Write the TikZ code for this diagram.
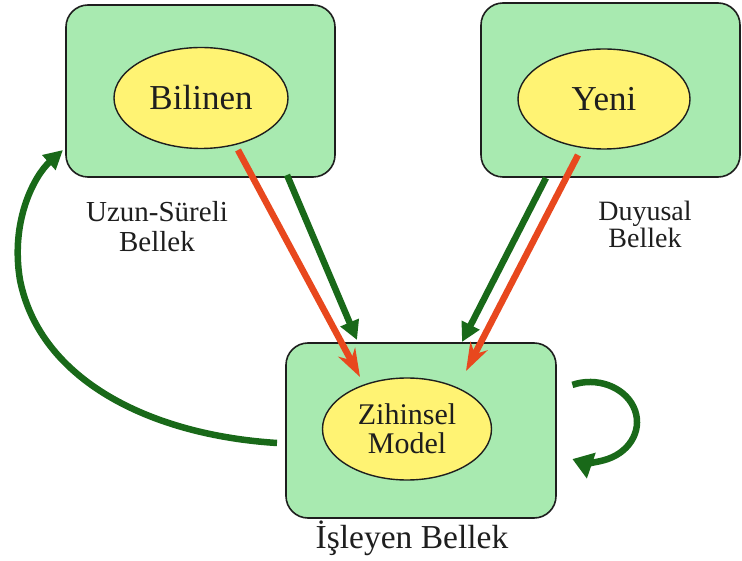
\documentclass[tikz,border=0pt]{standalone}
\usepackage{fontspec}
\setmainfont{Liberation Serif}
\usetikzlibrary{arrows.meta,shapes.geometric}
\definecolor{boxgreen}{RGB}{168,234,176}
\definecolor{ellyellow}{RGB}{255,243,115}
\definecolor{arrgreen}{RGB}{25,105,25}
\definecolor{arrred}{RGB}{232,72,30}
\definecolor{ink}{RGB}{30,30,30}
\tikzset{
  membox/.style={draw=ink, line width=1.6pt, fill=boxgreen, rounded corners=22pt, minimum width=#1, inner sep=0pt},
  idea/.style={ellipse, draw=ink, line width=1.4pt, fill=ellyellow, inner sep=0pt, text=ink},
  lab/.style={text=ink, align=center, inner sep=0pt},
  garrow/.style={draw=arrgreen, line width=6.5pt, -{Triangle[length=19pt,width=19pt]}},
  rarrow/.style={draw=arrred, line width=6.5pt, -{Stealth[length=28pt,width=19pt,inset=9pt]}},
}
\begin{document}
\begin{tikzpicture}[x=1pt,y=-1pt]
\useasboundingbox (0,0) rectangle (742,561);
% boxes
\node[membox=269pt, minimum height=172pt] (ltm) at (200.5,91) {};
\node[membox=259pt, minimum height=174pt] (sm) at (610.5,90) {};
\node[membox=270pt, minimum height=175pt] (wm) at (421,430.5) {};
% ellipses
\node[idea, minimum width=174pt, minimum height=101pt, font=\fontsize{35}{36}\selectfont] (bil) at (201,98) {Bilinen};
\node[idea, minimum width=172pt, minimum height=100pt, font=\fontsize{35}{36}\selectfont] (yeni) at (604,99) {Yeni};
\node[idea, minimum width=169pt, minimum height=102pt, align=center, font=\fontsize{30}{29}\selectfont] (zm) at (407,429) {Zihinsel\\Model};
% labels
\node[lab, font=\fontsize{29}{30}\selectfont] (ltmlab) at (157,227) {Uzun-Süreli\\Bellek};
\node[lab, font=\fontsize{28}{27}\selectfont] (smlab) at (645,224) {Duyusal\\Bellek};
\node[lab, font=\fontsize{33.5}{35}\selectfont] (wmlab) at (412,538) {İşleyen Bellek};
% arrow end points
\coordinate (r1s) at (238,150);
\coordinate (r1e) at (360,377);
\coordinate (g1s) at (287,175);
\coordinate (g1e) at (357,340);
\coordinate (r2s) at (578,155);
\coordinate (r2e) at (466,371);
\coordinate (g2s) at (546,178);
\coordinate (g2e) at (462,342);
\coordinate (fbS) at (277,443);
\coordinate (fbM) at (20,280);
\coordinate (fbE) at (63,150);
% straight arrows
\draw[garrow] (g1s) -- (g1e);
\draw[garrow] (g2s) -- (g2e);
\draw[rarrow] (r1s) -- (r1e);
\draw[rarrow] (r2s) -- (r2e);
% feedback curve
\draw[garrow] (fbS) .. controls (150,435) and (40,380) .. (fbM) .. controls (10,220) and (35,175) .. (fbE);
% self loop
\coordinate (loopS) at (572.4,384.9);
\draw[garrow, -{Triangle[length=20pt,width=26pt]}] (loopS) arc[start angle=-112, end angle=112, x radius=47, y radius=40];
\end{tikzpicture}
\end{document}
